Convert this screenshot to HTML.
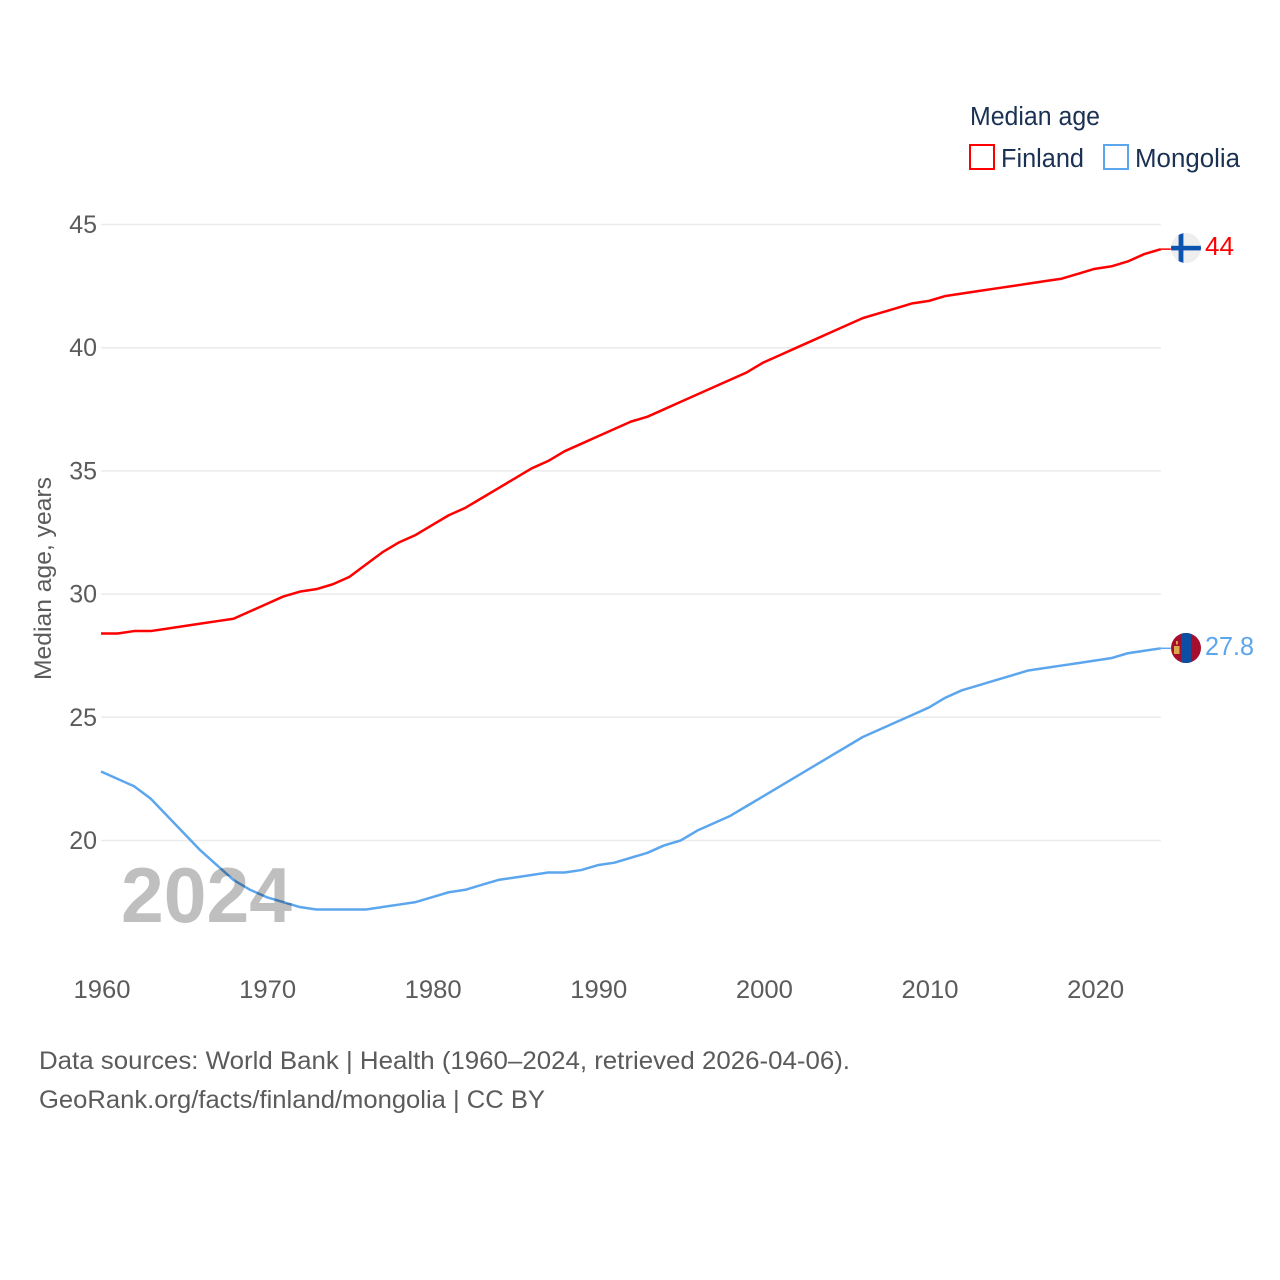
<!DOCTYPE html>
<html lang="en">
<head>
<meta charset="utf-8">
<title>Median age: Finland and Mongolia</title>
<style>
html,body{margin:0;padding:0;background:#fff;}
svg{display:block;font-family:"Liberation Sans",sans-serif;}
</style>
</head>
<body>
<svg id="chart" width="1280" height="1280" viewBox="0 0 1280 1280" xmlns="http://www.w3.org/2000/svg">
  <rect width="1280" height="1280" fill="#fff"/>
  <g id="grid"></g>
  <g id="yticks"></g>
  <g id="xticks"></g>
  <text transform="translate(51,680) rotate(-90)" font-size="24.5" fill="#5b5b5b" textLength="203" lengthAdjust="spacingAndGlyphs">Median age, years</text>
  <g id="series"></g>
  <text x="121" y="922" font-size="78" font-weight="bold" fill="#000" fill-opacity="0.25" textLength="171" lengthAdjust="spacingAndGlyphs">2024</text>

  <text x="970" y="125" font-size="25.5" fill="#1a3153" textLength="130" lengthAdjust="spacingAndGlyphs">Median age</text>
  <rect x="970" y="145" width="24" height="24" fill="none" stroke="#ff0000" stroke-width="2"/>
  <text x="1001" y="167" font-size="25.5" fill="#1a3153" textLength="83" lengthAdjust="spacingAndGlyphs">Finland</text>
  <rect x="1104" y="145" width="24" height="24" fill="none" stroke="#5ca6ee" stroke-width="2"/>
  <text x="1135" y="167" font-size="25.5" fill="#1a3153" textLength="105" lengthAdjust="spacingAndGlyphs">Mongolia</text>

  <g>
    <clipPath id="clip-fi"><circle cx="1186" cy="248" r="15"/></clipPath>
    <circle cx="1186" cy="248" r="15" fill="#eeeeee"/>
    <g clip-path="url(#clip-fi)">
      <rect x="1171" y="245.8" width="30" height="4.6" fill="#0b53ae"/>
      <rect x="1178.6" y="233" width="4.8" height="30" fill="#0b53ae"/>
    </g>
  </g>
  <text x="1205" y="255" font-size="25.5" fill="#ff0000" textLength="29" lengthAdjust="spacingAndGlyphs">44</text>

  <g>
    <clipPath id="clip-mn"><circle cx="1186" cy="648" r="15"/></clipPath>
    <circle cx="1186" cy="648" r="15" fill="#a50e2d"/>
    <g clip-path="url(#clip-mn)">
      <rect x="1181" y="633" width="10" height="30" fill="#0b4ea2"/>
      <rect x="1174" y="646" width="5.5" height="8" fill="#dca94a"/>
      <rect x="1176" y="641" width="1.8" height="3.5" fill="#dca94a"/>
    </g>
  </g>
  <text x="1205" y="655" font-size="25.5" fill="#5ca6ee" textLength="49" lengthAdjust="spacingAndGlyphs">27.8</text>

  <text x="39" y="1069" font-size="25" fill="#5b5b5b" textLength="811" lengthAdjust="spacingAndGlyphs">Data sources: World Bank | Health (1960–2024, retrieved 2026-04-06).</text>
  <a><text x="39" y="1108" font-size="25" fill="#5b5b5b" textLength="506" lengthAdjust="spacingAndGlyphs">GeoRank.org/facts/finland/mongolia | CC BY</text></a>
</svg>
<script>
const startYear = 1960;
const endYear = 2024;
const finlandValues = [28.4,28.4,28.5,28.5,28.6,28.7,28.8,28.9,29.0,29.3,29.6,29.9,30.1,30.2,30.4,30.7,31.2,31.7,32.1,32.4,32.8,33.2,33.5,33.9,34.3,34.7,35.1,35.4,35.8,36.1,36.4,36.7,37.0,37.2,37.5,37.8,38.1,38.4,38.7,39.0,39.4,39.7,40.0,40.3,40.6,40.9,41.2,41.4,41.6,41.8,41.9,42.1,42.2,42.3,42.4,42.5,42.6,42.7,42.8,43.0,43.2,43.3,43.5,43.8,44.0];
const mongoliaValues = [22.8,22.5,22.2,21.7,21.0,20.3,19.6,19.0,18.4,18.0,17.7,17.5,17.3,17.2,17.2,17.2,17.2,17.3,17.4,17.5,17.7,17.9,18.0,18.2,18.4,18.5,18.6,18.7,18.7,18.8,19.0,19.1,19.3,19.5,19.8,20.0,20.4,20.7,21.0,21.4,21.8,22.2,22.6,23.0,23.4,23.8,24.2,24.5,24.8,25.1,25.4,25.8,26.1,26.3,26.5,26.7,26.9,27.0,27.1,27.2,27.3,27.4,27.6,27.7,27.8];
const yTickValues = [20,25,30,35,40,45];
const xTickValues = [1960,1970,1980,1990,2000,2010,2020];

const NS = 'http://www.w3.org/2000/svg';
function xScale(year){ return 101 + (year - 1960) * 16.56; }
function yScale(v){ return 224.5 + (45 - v) * 24.64; }

const gridG = document.getElementById('grid');
const yG = document.getElementById('yticks');
const xG = document.getElementById('xticks');
const seriesG = document.getElementById('series');

yTickValues.forEach(function(v){
  const l = document.createElementNS(NS,'line');
  
  
  l.setAttribute('x1', xScale(startYear));
  l.setAttribute('x2', xScale(endYear));
  l.setAttribute('y1', yScale(v));
  l.setAttribute('y2', yScale(v));
  l.setAttribute('stroke', '#ebebeb');
  l.setAttribute('stroke-width', '1.5');
  gridG.appendChild(l);
  const t = document.createElementNS(NS,'text');
  
  
  t.setAttribute('x', 97);
  t.setAttribute('y', yScale(v) + 8.5);
  t.setAttribute('text-anchor', 'end');
  t.setAttribute('font-size', '25');
  t.setAttribute('fill', '#5b5b5b');
  t.textContent = String(v);
  yG.appendChild(t);
});

xTickValues.forEach(function(y){
  const t = document.createElementNS(NS,'text');
  
  
  t.setAttribute('x', xScale(y) + 1);
  t.setAttribute('y', 998);
  t.setAttribute('text-anchor', 'middle');
  t.setAttribute('font-size', '25');
  t.setAttribute('fill', '#5b5b5b');
  t.setAttribute('textLength', '57');
  t.setAttribute('lengthAdjust', 'spacingAndGlyphs');
  t.textContent = String(y);
  xG.appendChild(t);
});

function drawSeries(values, color, name){
  let d = '';
  values.forEach(function(v,i){
    d += (i ? 'L' : 'M') + xScale(startYear + i).toFixed(2) + ' ' + yScale(v).toFixed(2);
  });
  const p = document.createElementNS(NS,'path');
  
  
  p.setAttribute('d', d);
  p.setAttribute('fill', 'none');
  p.setAttribute('stroke', color);
  p.setAttribute('stroke-width', '2.5');
  p.setAttribute('stroke-linejoin', 'round');
  seriesG.appendChild(p);
  const last = values[values.length - 1];
  const c = document.createElementNS(NS,'line');
  
  
  c.setAttribute('x1', xScale(endYear));
  c.setAttribute('x2', xScale(endYear) + 10);
  c.setAttribute('y1', yScale(last));
  c.setAttribute('y2', yScale(last));
  c.setAttribute('stroke', color);
  c.setAttribute('stroke-width', '1.5');
  seriesG.appendChild(c);
}
drawSeries(finlandValues, '#ff0000', 'finland');
drawSeries(mongoliaValues, '#5ca6ee', 'mongolia');
</script>
</body>
</html>
